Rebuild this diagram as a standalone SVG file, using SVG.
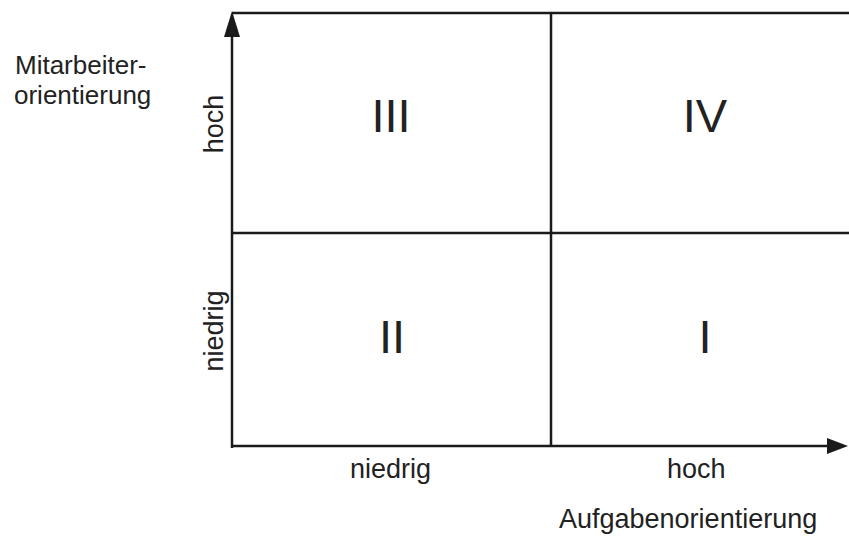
<svg xmlns="http://www.w3.org/2000/svg" width="849" height="536" viewBox="0 0 849 536">
<style>
.ln{stroke:#1a1a1a;stroke-width:2.5;fill:none}
.ah{fill:#1a1a1a}
.t{font-family:"Liberation Sans",Arial,sans-serif;font-size:27px;fill:#222}
.yl{font-size:26px}
.n{font-family:"Liberation Sans",Arial,sans-serif;font-size:47px;fill:#222;text-anchor:middle}
</style>
<rect width="849" height="536" fill="#fff"/>
<g id="connectors">
<line class="ln" x1="232" y1="448" x2="232" y2="30"/>
<polygon class="ah" points="232,11 224,37 240,37"/>
<line class="ln" x1="231" y1="446" x2="832" y2="446"/>
<polygon class="ah" points="848,446 827,438 827,454"/>
<line class="ln" x1="232" y1="13" x2="849" y2="13"/>
<line class="ln" x1="232" y1="233" x2="849" y2="233"/>
<line class="ln" x1="551" y1="13" x2="551" y2="446"/>
</g>
<g id="q3"><text class="n" x="391" y="132">III</text></g>
<g id="q4"><text class="n" x="705" y="132">IV</text></g>
<g id="q2"><text class="n" x="392" y="353">II</text></g>
<g id="q1"><text class="n" x="705" y="353">I</text></g>
<g id="ylabel">
<text class="t yl" x="15" y="74">Mitarbeiter-</text>
<text class="t yl" x="14" y="104">orientierung</text>
</g>
<g id="yticks">
<text class="t" text-anchor="middle" transform="translate(223,124) rotate(-90)">hoch</text>
<text class="t" text-anchor="middle" transform="translate(223,331) rotate(-90)">niedrig</text>
</g>
<g id="xticks">
<text class="t" x="350" y="478">niedrig</text>
<text class="t" x="667" y="478">hoch</text>
</g>
<g id="xlabel"><text class="t" x="559" y="528">Aufgabenorientierung</text></g>
</svg>
